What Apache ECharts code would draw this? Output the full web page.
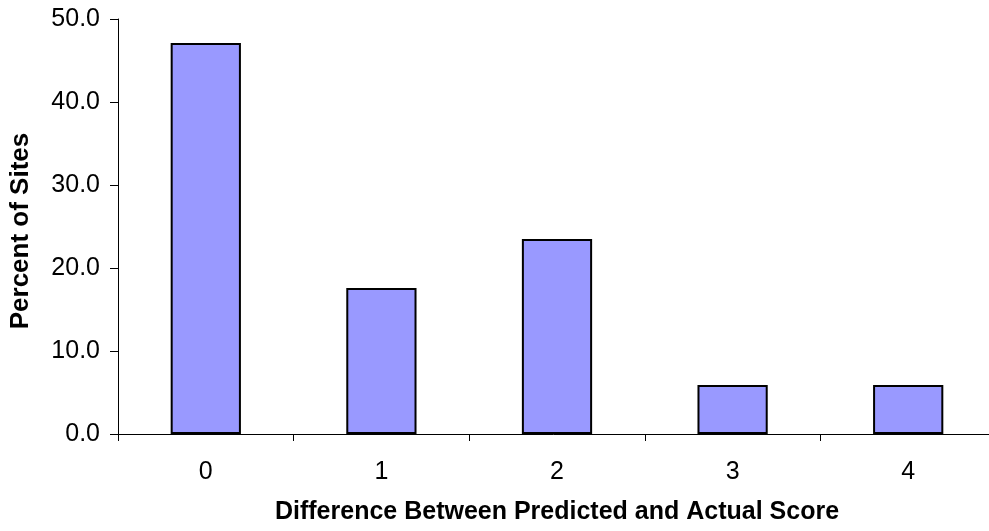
<!DOCTYPE html>
<html>
<head>
<meta charset="utf-8">
<script src="https://cdn.jsdelivr.net/npm/echarts@6/dist/echarts.min.js"></script>
<style>html,body{margin:0;padding:0;background:#fff}#c{width:989px;height:531px}</style>
</head>
<body>
<div id="c"></div>
<script>
const categories = ['0', '1', '2', '3', '4'];
const percentOfSites = [47.1, 17.6, 23.5, 5.9, 5.9];
const yTicks = { min: 0, max: 50, interval: 10 };
const xTitle = 'Difference Between Predicted and Actual Score';
const yTitle = 'Percent of Sites';

const chart = echarts.init(document.getElementById('c'), null, { renderer: 'canvas' });
const font = 'Liberation Sans, Arial, sans-serif';
chart.setOption({
  animation: false,
  backgroundColor: '#ffffff',
  grid: { left: 118, top: 19, width: 878, height: 415, containLabel: false, outerBoundsMode: 'none' },
  xAxis: {
    type: 'category',
    data: categories,
    boundaryGap: true,
    axisLine: { lineStyle: { color: '#000', width: 1 } },
    axisTick: { show: true, alignWithLabel: false, length: 7, lineStyle: { color: '#000' } },
    axisLabel: { color: '#000', fontSize: 25, fontFamily: font, margin: 26 },
    name: xTitle,
    nameLocation: 'middle',
    nameGap: 66,
    nameTextStyle: { color: '#000', fontSize: 25, fontWeight: 'bold', fontFamily: font }
  },
  yAxis: {
    type: 'value',
    min: yTicks.min, max: yTicks.max, interval: yTicks.interval,
    splitLine: { show: false },
    axisLine: { show: true, lineStyle: { color: '#000', width: 1 } },
    axisTick: { show: true, length: 8, lineStyle: { color: '#000' } },
    axisLabel: { color: '#000', fontSize: 25, fontFamily: font, margin: 18,
      formatter: v => v.toFixed(1) },
    name: yTitle,
    nameLocation: 'middle',
    nameGap: 84,
    nameTextStyle: { color: '#000', fontSize: 26, fontWeight: 'bold', fontFamily: font,
      padding: [0, 9, 0, 0] }
  },
  series: [{
    type: 'bar',
    data: percentOfSites,
    barWidth: '40%',
    itemStyle: { color: '#9999FF', borderColor: '#000', borderWidth: 2 }
  }]
});
</script>
</body>
</html>
